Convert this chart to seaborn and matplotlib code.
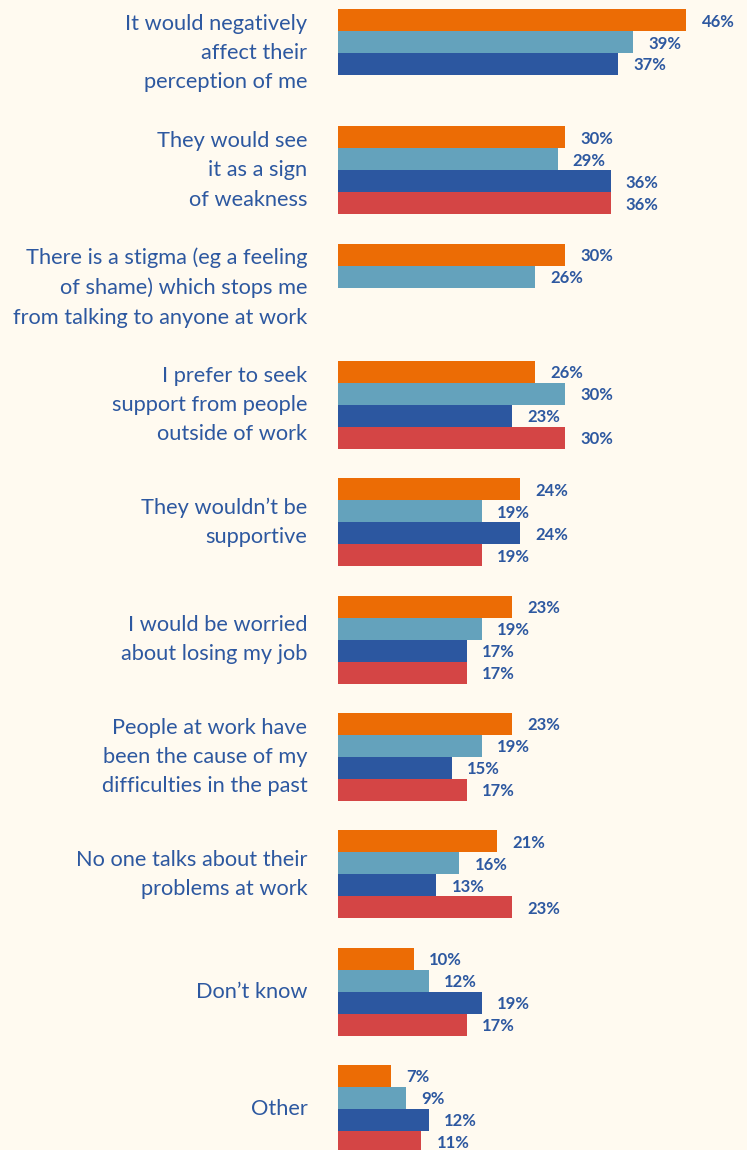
import numpy as np
import pandas as pd
import matplotlib
matplotlib.use("Agg")
import matplotlib.pyplot as plt
import seaborn as sns

categories = [
    "It would negatively\naffect their\nperception of me",
    "They would see\nit as a sign\nof weakness",
    "There is a stigma (eg a feeling\nof shame) which stops me\nfrom talking to anyone at work",
    "I prefer to seek\nsupport from people\noutside of work",
    "They wouldn\u2019t be\nsupportive",
    "I would be worried\nabout losing my job",
    "People at work have\nbeen the cause of my\ndifficulties in the past",
    "No one talks about their\nproblems at work",
    "Don\u2019t know",
    "Other",
]
series_names = ["Group 1", "Group 2", "Group 3", "Group 4"]
orange_vals = [46, 30, 30, 26, 24, 23, 23, 21, 10, 7]
lightblue_vals = [39, 29, 26, 30, 19, 19, 19, 16, 12, 9]
darkblue_vals = [37, 36, np.nan, 23, 24, 17, 15, 13, 19, 12]
red_vals = [np.nan, 36, np.nan, 30, 19, 17, 17, 23, 17, 11]

colors = ["#EC6C05", "#64A2BC", "#2C57A0", "#D44545"]
text_color = "#2D58A0"
bg = "#FFFAF0"

rows = []
for name, vals in zip(series_names, [orange_vals, lightblue_vals, darkblue_vals, red_vals]):
    for c, v in zip(categories, vals):
        if not np.isnan(v):
            rows.append({"category": c, "series": name, "value": v})
df = pd.DataFrame(rows)

sns.set_theme(style="white")
plt.rcParams["font.family"] = ["Lato", "DejaVu Sans"]

fig = plt.figure(figsize=(7.47, 11.5), dpi=100, facecolor=bg)
ax = fig.add_axes([338 / 747, 0, 1 - 338 / 747, 1])
ax.set_facecolor(bg)

sns.barplot(
    data=df, x="value", y="category", hue="series",
    order=categories, hue_order=series_names,
    palette=colors, saturation=1, width=0.75, dodge=True,
    errorbar=None, orient="h", ax=ax, legend=False,
    linewidth=0, edgecolor="none",
)

for cont in ax.containers:
    labels = ax.bar_label(cont, fmt="{:.0f}%", padding=11, color=text_color,
                          fontsize=12, fontweight="bold")
    for t in labels:
        t.set_va("center_baseline")

stride = 117.33
c0 = 53
ax.set_ylim((1150 - c0) / stride, -c0 / stride)
ax.set_xlim(0, (747 - 338) / 7.57)

ax.set_xlabel("")
ax.set_ylabel("")
ax.set_xticks([])
ax.tick_params(axis="y", length=0, pad=22)
for lab in ax.get_yticklabels():
    lab.set_ha("right")
    lab.set_va("center")
    lab.set_multialignment("right")
    lab.set_fontsize(15.7)
    lab.set_color(text_color)
    lab.set_linespacing(1.58)
for s in ax.spines.values():
    s.set_visible(False)

fig.savefig("out.png", dpi=100, facecolor=bg)
